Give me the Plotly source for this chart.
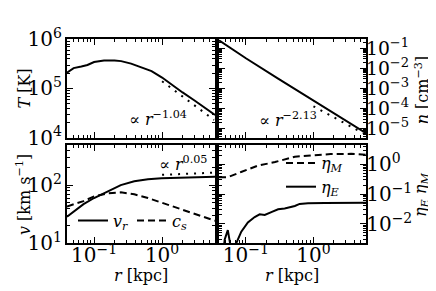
import plotly.graph_objects as go

FONT = "DejaVu Serif"
W, H = 436, 291

# ---------------- data ----------------
# Temperature profile (top-left)
r_T = [0.04, 0.05, 0.065, 0.08, 0.1, 0.14, 0.2, 0.25, 0.35, 0.5, 0.7, 1.0, 1.5, 2.0, 3.0, 4.0, 6.0]
T_vals = [2.1e5, 2.6e5, 2.8e5, 3.0e5, 3.45e5, 3.7e5, 3.7e5, 3.6e5, 3.2e5, 2.7e5, 2.25e5,
          1.67e5, 1.1e5, 8.3e4, 5.7e4, 4.3e4, 2.9e4]
r_T_fit = [1.0, 5.8]
T_fit = [1.4e5, 2.3e4]

# Density profile (top-right)
r_n = [0.04, 0.1, 0.3, 1.0, 3.0, 6.0]
n_vals = [0.25, 3.2e-2, 3.1e-3, 2.5e-4, 2.4e-5, 5.9e-6]
r_n_fit = [1.0, 5.4]
n_fit = [1.3e-4, 6.0e-6]

# Velocities (bottom-left)
r_v = [0.04, 0.05, 0.07, 0.1, 0.156, 0.247, 0.39, 0.62, 0.98, 1.55, 2.44, 3.86, 6.0]
v_r = [28.6, 35, 47, 60, 78, 100, 116, 126, 131, 133, 134, 136, 139]
c_s = [43, 47, 53, 64, 72, 75, 69.5, 60, 50, 42, 35, 29, 24.4]
r_v_fit = [1.0, 5.5]
v_fit = [150, 163]

# Loading factors (bottom-right)
r_eM = [0.04, 0.054, 0.085, 0.15, 0.27, 0.53, 0.92, 1.8, 3.6, 6.0]
eta_M = [0.37, 0.37, 0.55, 0.90, 1.19, 1.8, 1.97, 2.2, 2.24, 2.1]
r_eE = [0.046, 0.0486, 0.054, 0.058, 0.062, 0.069, 0.0855, 0.107, 0.135, 0.16, 0.19, 0.238,
        0.3, 0.375, 0.53, 0.625, 0.83, 1.47, 6.0]
eta_E = [0.001, 0.003, 0.0062, 0.003, 0.001, 0.0018, 0.0055, 0.0112, 0.017, 0.021, 0.020,
         0.025, 0.031, 0.033, 0.040, 0.047, 0.049, 0.050, 0.051]

# ---------------- figure ----------------
fig = go.Figure()
solid = dict(color="black", width=2)
dashed = dict(color="black", width=2, dash="7px,4px")
dotted = dict(color="black", width=2, dash="2px,6px")

fig.add_trace(go.Scatter(x=r_T, y=T_vals, mode="lines", line=solid, xaxis="x", yaxis="y", showlegend=False))
fig.add_trace(go.Scatter(x=r_T_fit, y=T_fit, mode="lines", line=dotted, xaxis="x", yaxis="y", showlegend=False))

fig.add_trace(go.Scatter(x=r_n, y=n_vals, mode="lines", line=solid, xaxis="x2", yaxis="y2", showlegend=False))
fig.add_trace(go.Scatter(x=r_n_fit, y=n_fit, mode="lines", line=dotted, xaxis="x2", yaxis="y2", showlegend=False))

fig.add_trace(go.Scatter(x=r_v, y=v_r, mode="lines", line=solid, xaxis="x3", yaxis="y3",
                         name="<i>v</i><sub><i>r</i></sub>", legend="legend"))
fig.add_trace(go.Scatter(x=r_v, y=c_s, mode="lines", line=dashed, xaxis="x3", yaxis="y3",
                         name="<i>c</i><sub><i>s</i></sub>", legend="legend"))
fig.add_trace(go.Scatter(x=r_v_fit, y=v_fit, mode="lines", line=dotted, xaxis="x3", yaxis="y3", showlegend=False))

fig.add_trace(go.Scatter(x=r_eM, y=eta_M, mode="lines", line=dashed, xaxis="x4", yaxis="y4",
                         name="<i>η</i><sub><i>M</i></sub>", legend="legend2"))
fig.add_trace(go.Scatter(x=r_eE, y=eta_E, mode="lines", line=solid, xaxis="x4", yaxis="y4",
                         name="<i>η</i><sub><i>E</i></sub>", legend="legend2"))


def px(x):
    return x / W


def py(y):
    return 1 - y / H


xl = [px(59), px(207)]
xr = [px(211), px(358)]
yt = [py(127), py(19)]
yb = [py(243), py(135)]

tickfont = dict(family=FONT, size=16, color="black")
alias = {"1": "10<sup>0</sup>", "10": "10<sup>1</sup>"}


def ax(**kw):
    d = dict(type="log", showline=True, linecolor="black", linewidth=2, mirror="allticks",
             ticks="inside", ticklen=6, tickwidth=1, tickcolor="black", showgrid=False,
             zeroline=False, dtick=1, exponentformat="power", tickfont=tickfont,
             labelalias=alias,
             minor=dict(ticks="inside", ticklen=3, tickwidth=1, tickcolor="black", showgrid=False))
    d.update(kw)
    return d


xrange_log = [-1.398, 0.778]
fig.update_layout(
    width=W, height=H, margin=dict(l=0, r=0, t=0, b=0),
    paper_bgcolor="white", plot_bgcolor="white",
    font=dict(family=FONT, size=16, color="black"),
    xaxis=ax(domain=xl, anchor="y", range=xrange_log, showticklabels=False),
    yaxis=ax(domain=yt, anchor="x", range=[4, 6]),
    xaxis2=ax(domain=xr, anchor="y2", range=xrange_log, showticklabels=False),
    yaxis2=ax(domain=yt, anchor="x2", range=[-5.45, -0.55], side="right", ticklabelstandoff=-5,
              tickfont=dict(family=FONT, size=15, color="black")),
    xaxis3=ax(domain=xl, anchor="y3", range=xrange_log, ticklabelstandoff=-6),
    yaxis3=ax(domain=yb, anchor="x3", range=[1, 2.69]),
    xaxis4=ax(domain=xr, anchor="y4", range=xrange_log, ticklabelstandoff=-6),
    yaxis4=ax(domain=yb, anchor="x4", range=[-2.65, 0.65], side="right", ticklabelstandoff=-5),
    legend=dict(orientation="h", x=px(65), y=py(218), xanchor="left", yanchor="middle",
                bgcolor="rgba(0,0,0,0)", font=dict(family=FONT, size=16), entrywidth=14,
                tracegroupgap=0),
    legend2=dict(orientation="v", x=px(273), y=py(168), xanchor="left", yanchor="middle",
                 bgcolor="rgba(0,0,0,0)", font=dict(family=FONT, size=16), tracegroupgap=0),
)

ann_font = dict(family=FONT, size=16, color="black")
annotations = [
    dict(text="<i>T</i> [K]", x=px(16), y=py(73), textangle=-90),
    dict(text="<i>n</i> [cm<sup>−3</sup>]", x=px(414), y=py(75), textangle=-90),
    dict(text="<i>v</i> [km s<sup>−1</sup>]", x=px(15), y=py(190), textangle=-90),
    dict(text="<i>η</i><sub><i>E</i></sub> <i>η</i><sub><i>M</i></sub>", x=px(413), y=py(190), textangle=-90),
    dict(text="<i>r</i> [kpc]", x=px(133), y=py(278)),
    dict(text="<i>r</i> [kpc]", x=px(284), y=py(278)),
    dict(text="∝ <i>r</i><sup>−1.04</sup>", x=px(150), y=py(106)),
    dict(text="∝ <i>r</i><sup>−2.13</sup>", x=px(280), y=py(107)),
    dict(text="∝ <i>r</i><sup>0.05</sup>", x=px(175), y=py(155)),
]
for a in annotations:
    a.update(xref="paper", yref="paper", showarrow=False, font=ann_font,
             xanchor="center", yanchor="middle")
fig.update_layout(annotations=annotations)

fig.write_html("out.html")
